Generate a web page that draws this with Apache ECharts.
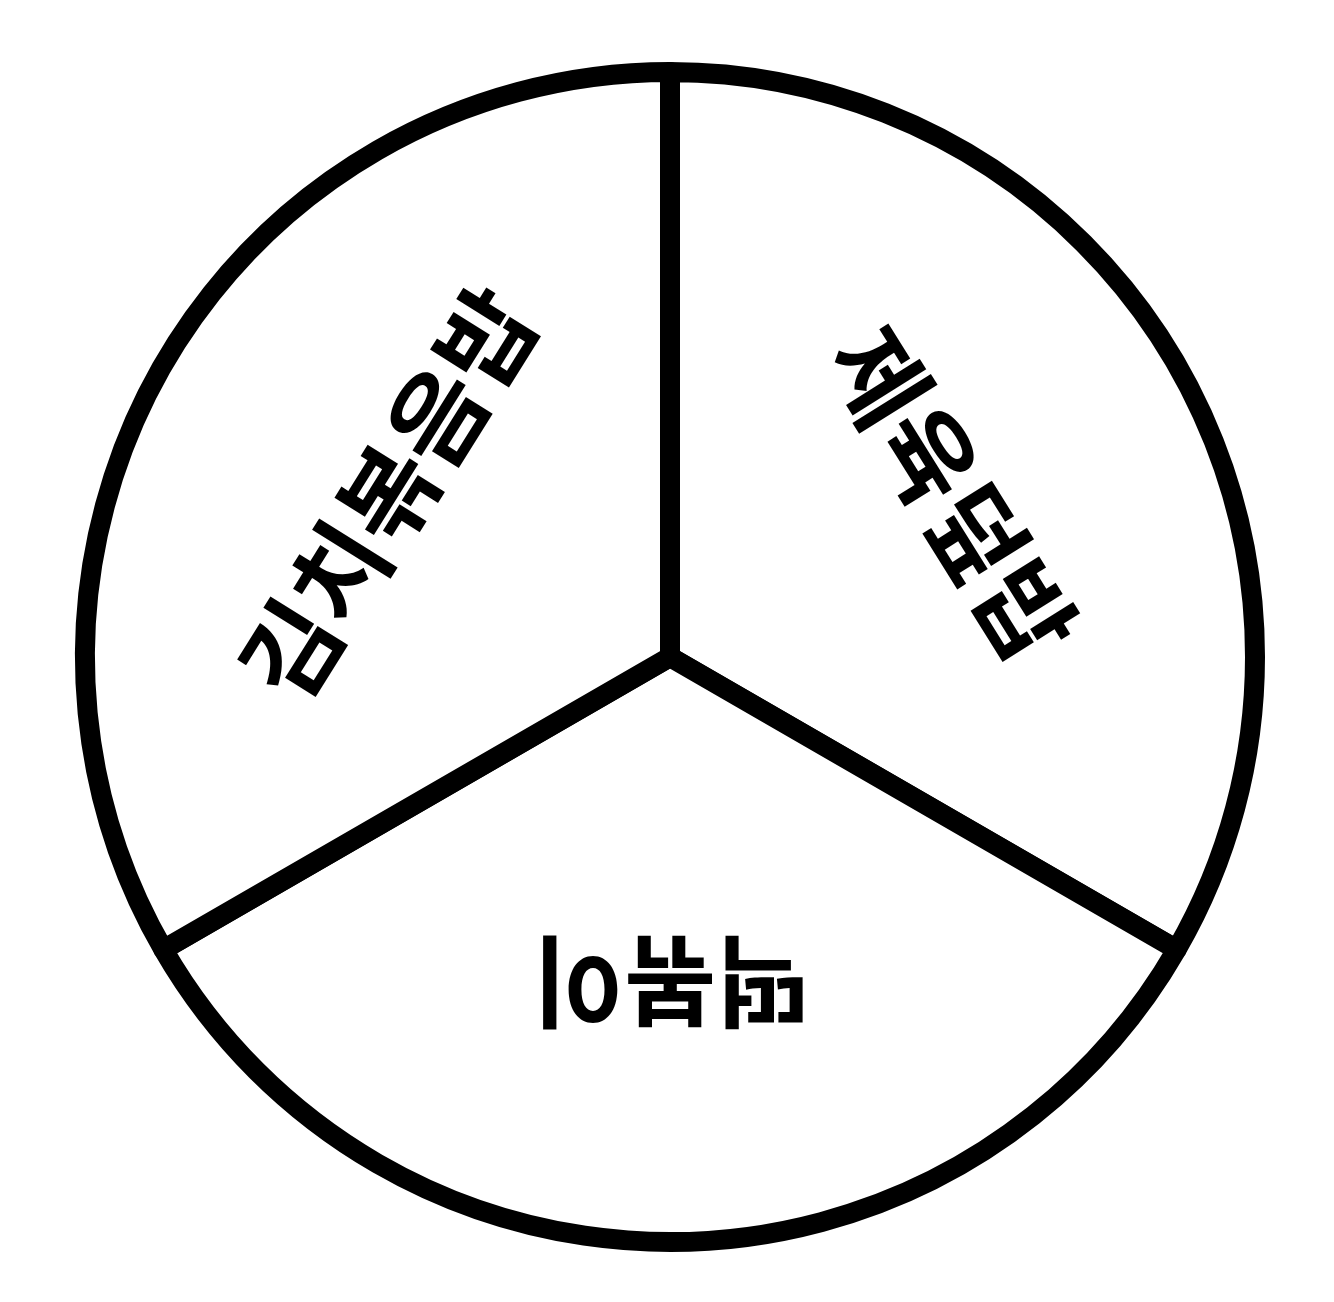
<!DOCTYPE html>
<html>
<head>
<meta charset="utf-8">
<script src="https://cdn.jsdelivr.net/npm/echarts@6/dist/echarts.min.js"></script>
<style>
html,body{margin:0;padding:0;background:#ffffff;}
#chart{width:1334px;height:1302px;}
</style>
</head>
<body>
<div id="chart"></div>
<script>
// Menu names (clockwise from 12 o'clock)
const categories = ['제육덮밥', '떡볶이', '김치볶음밥'];
// Equal shares
const values = [1, 1, 1];
// Label rotation per slice (text tops face outward)
const labelRotations = [-58, 180, 58];

const chart = echarts.init(document.getElementById('chart'), null, {renderer: 'canvas'});

const sliceData = categories.map((name, i) => ({ name: name, value: values[i] }));
const labelData = categories.map((name, i) => ({
  name: name,
  value: values[i],
  label: { rotate: labelRotations[i] }
}));

chart.setOption({
  backgroundColor: '#ffffff',
  animation: false,
  series: [
    {
      type: 'pie',
      center: [670, 657],
      radius: [0, 585],
      startAngle: 90,
      clockwise: true,
      silent: true,
      label: { show: false },
      labelLine: { show: false },
      itemStyle: {
        color: '#ffffff',
        borderColor: '#000000',
        borderWidth: 20
      },
      data: sliceData
    },
    {
      type: 'pie',
      center: [670, 657],
      radius: [60, 585],
      startAngle: 90,
      clockwise: true,
      silent: true,
      itemStyle: { color: 'rgba(0,0,0,0)', borderWidth: 0 },
      labelLine: { show: false },
      label: {
        show: true,
        position: 'inside',
        formatter: '{b}',
        color: '#000000',
        fontFamily: '"Noto Sans CJK KR", sans-serif',
        fontSize: 100,
        fontWeight: 'bold'
      },
      data: labelData
    }
  ]
});
</script>
</body>
</html>
